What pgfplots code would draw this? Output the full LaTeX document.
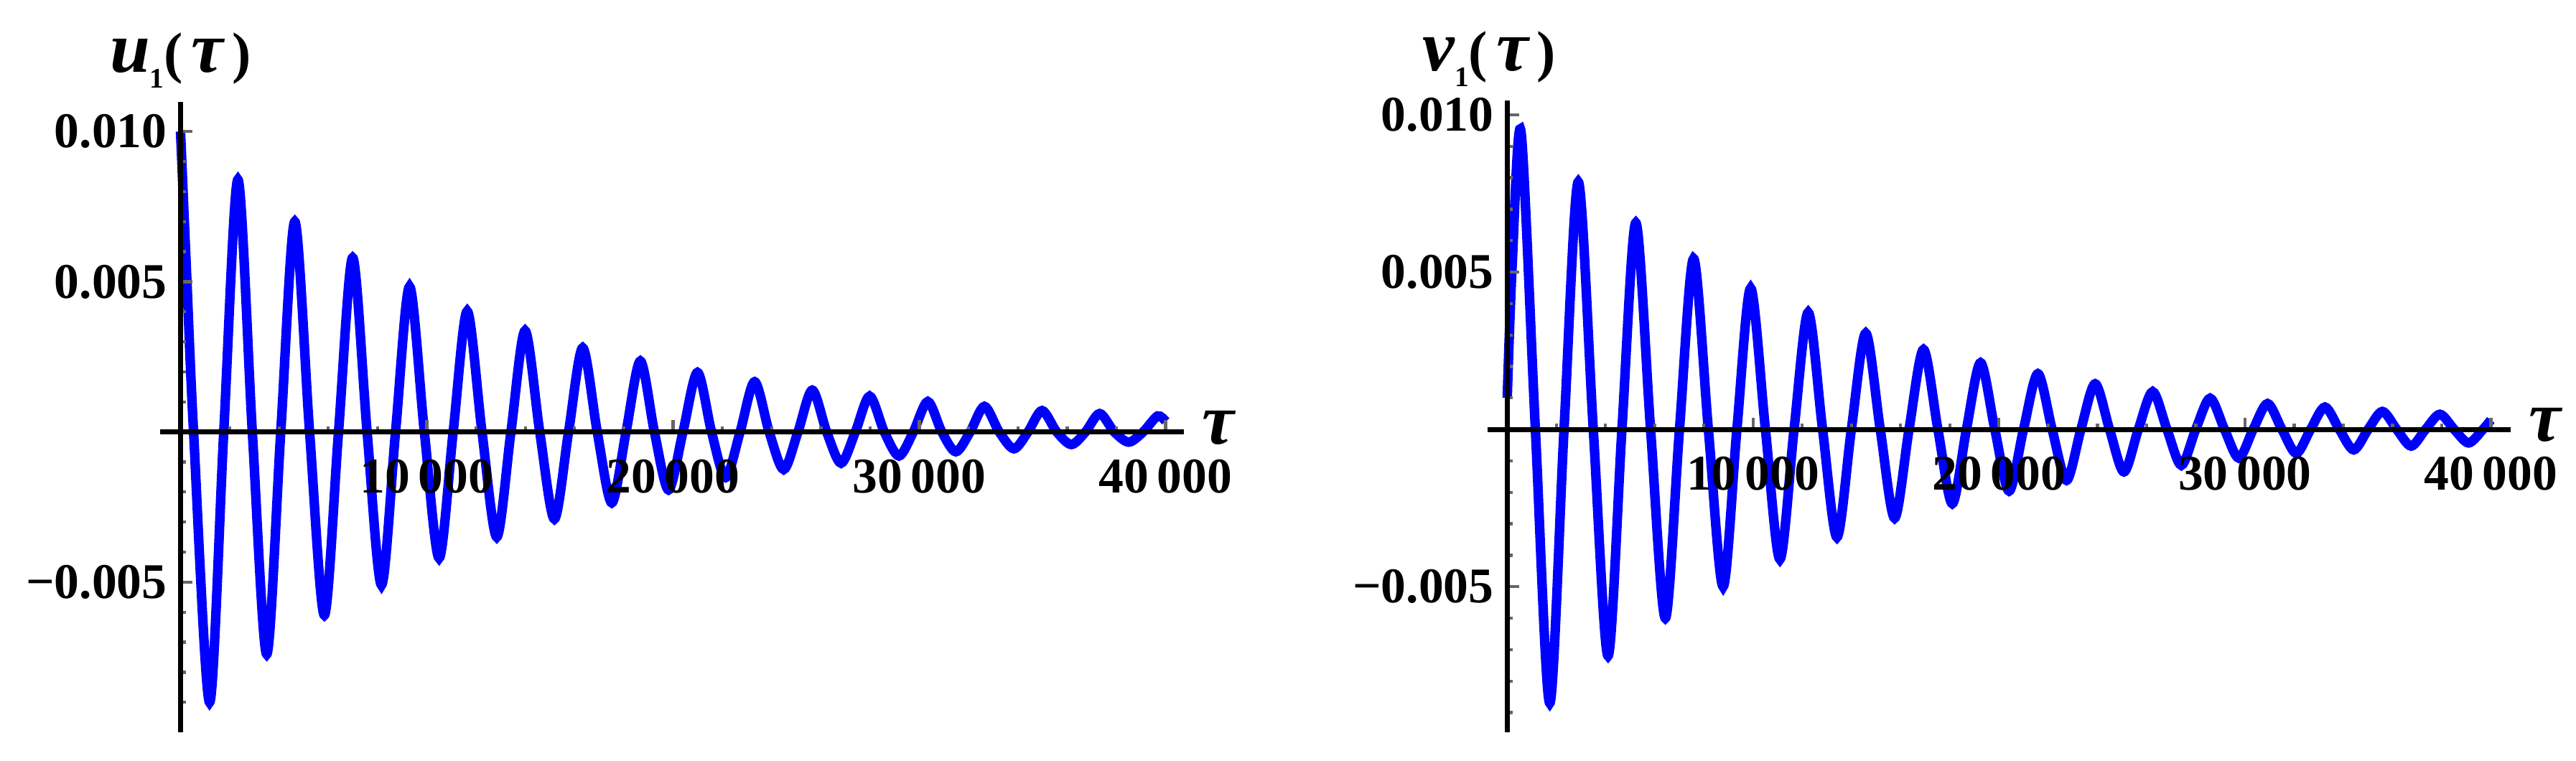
\documentclass[border=0pt]{standalone}
\usepackage{fontspec}
\setmainfont{Liberation Serif}
\usepackage{pgfplots}
\pgfplotsset{compat=1.18}

% Mathematica-like look: axes through the origin, small grey ticks, bold Times labels
\pgfplotsset{
  mma/.style={
    scale only axis,
    anchor=south west,
    axis lines=middle,
    axis on top,
    clip=false,
    scaled ticks=false,
    axis line style={-, black, line width=1pt},
    tick align=inside,
    xtick={0,10000,20000,30000,40000},
    xticklabels={,10\,000,20\,000,30\,000,40\,000},
    minor xtick={2000,4000,...,40000},
    ytick={-0.005,0,0.005,0.010},
    yticklabels={−0.005,,0.005,0.010},
    minor ytick={-0.009,-0.008,-0.007,-0.006,-0.004,-0.003,-0.002,-0.001,
                 0.001,0.002,0.003,0.004,0.006,0.007,0.008,0.009},
    major tick length=2.3pt,
    minor tick length=1.1pt,
    tick style={black!60, line width=0.6pt},
    tick label style={font=\fontsize{9.7}{10}\selectfont\bfseries},
    xticklabel style={yshift=-1.8pt},
    yticklabel style={xshift=0.9pt},
  },
  curve/.style={blue, line width=1.85pt, smooth, no markers},
}

\newcommand{\lab}[1]{{\fontsize{14}{14}\selectfont\bfseries\itshape #1}%
  \raisebox{-3pt}{\fontsize{5.5}{5.5}\selectfont\bfseries 1}%
  {\fontsize{11}{11}\selectfont\bfseries(}\,%
  {\fontsize{14}{14}\selectfont\bfseries\itshape τ}\,%
  {\fontsize{11}{11}\selectfont\bfseries)}}

\begin{document}
\begin{tikzpicture}
\useasboundingbox (0,0) rectangle (500pt,147.58pt);

% ---- left panel: u_1(tau)
\begin{axis}[mma,
  at={(31.12pt,5.43pt)}, width=198.72pt, height=122.4pt,
  xmin=-820, xmax=40750, ymin=-0.0100, ymax=0.01099]
\addplot[curve] coordinates {
 (0,0.0100) (250,0.0052) (530,0) (1180,-0.0090) (1755,0)
 (2330,0.0084) (2915,0) (3500,-0.0074) (4070,0)
 (4640,0.0070) (5240,0) (5840,-0.0061) (6415,0)
 (6990,0.0058) (7575,0) (8160,-0.0051) (8730,0)
 (9300,0.00484) (9900,0) (10500,-0.0042) (11070,0)
 (11640,0.00402) (12240,0) (12840,-0.0035) (13415,0)
 (13990,0.00337) (14585,0) (15180,-0.0029) (15755,0)
 (16330,0.0028) (16920,0) (17510,-0.00236) (18090,0)
 (18670,0.00236) (19240,0) (19815,-0.00193) (20400,0)
 (20990,0.00198) (21560,0) (22130,-0.00152) (22720,0)
 (23310,0.00167) (23900,0) (24490,-0.00125) (25070,0)
 (25650,0.00139) (26235,0) (26820,-0.00104) (27400,0)
 (27980,0.00119) (28575,0) (29170,-0.00080) (29755,0)
 (30340,0.00101) (30910,0) (31480,-0.00066) (32060,0)
 (32640,0.00085) (33240,0) (33840,-0.00056) (34410,0)
 (34980,0.00071) (35575,0) (36170,-0.00042) (36745,0)
 (37320,0.00061) (37910,0) (38500,-0.00034) (39085,0)
 (39670,0.00053) (40000,0.00035)
};
\node[anchor=base] at (axis cs:0,0.01099) [yshift=5.7pt] {\lab{u}};
\node[anchor=west, font=\fontsize{14}{14}\selectfont\bfseries\itshape]
  at (axis cs:40750,0) [yshift=0.8pt] {τ};
\end{axis}

% ---- right panel: v_1(tau)
\begin{axis}[mma,
  at={(288.70pt,5.43pt)}, width=198.58pt, height=122.67pt,
  xmin=-806, xmax=40800, ymin=-0.00963, ymax=0.01046]
\addplot[curve] coordinates {
 (0,0.0010) (200,0.0052) (560,0.00947) (1145,0) (1730,-0.0087) (2310,0)
 (2890,0.00787) (3500,0) (4100,-0.0072) (4665,0)
 (5230,0.00657) (5830,0) (6430,-0.0060) (7005,0)
 (7580,0.00543) (8180,0) (8780,-0.0050) (9340,0)
 (9900,0.00449) (10500,0) (11090,-0.00413) (11665,0)
 (12240,0.00372) (12825,0) (13410,-0.00343) (13995,0)
 (14580,0.00306) (15170,0) (15755,-0.00282) (16340,0)
 (16930,0.00254) (17515,0) (18100,-0.00236) (18675,0)
 (19250,0.00212) (19830,0) (20410,-0.00196) (20995,0)
 (21580,0.00177) (22160,0) (22745,-0.00162) (23330,0)
 (23910,0.00145) (24495,0) (25080,-0.00135) (25665,0)
 (26250,0.00120) (26830,0) (27415,-0.00114) (28000,0)
 (28585,0.00099) (29170,0) (29750,-0.00091) (30335,0)
 (30920,0.00082) (31505,0) (32090,-0.00076) (32670,0)
 (33255,0.00071) (33840,0) (34425,-0.00065) (35010,0)
 (35590,0.00057) (36175,0) (36760,-0.00053) (37345,0)
 (37930,0.00048) (38510,0) (39095,-0.00043) (39680,0)
 (40000,0.00030)
};
\node[anchor=base] at (axis cs:0,0.01046) [yshift=5.7pt, xshift=-3.5pt] {\lab{v}};
\node[anchor=west, font=\fontsize{14}{14}\selectfont\bfseries\itshape]
  at (axis cs:40800,0) [yshift=0.8pt] {τ};
\end{axis}
\end{tikzpicture}
\end{document}
